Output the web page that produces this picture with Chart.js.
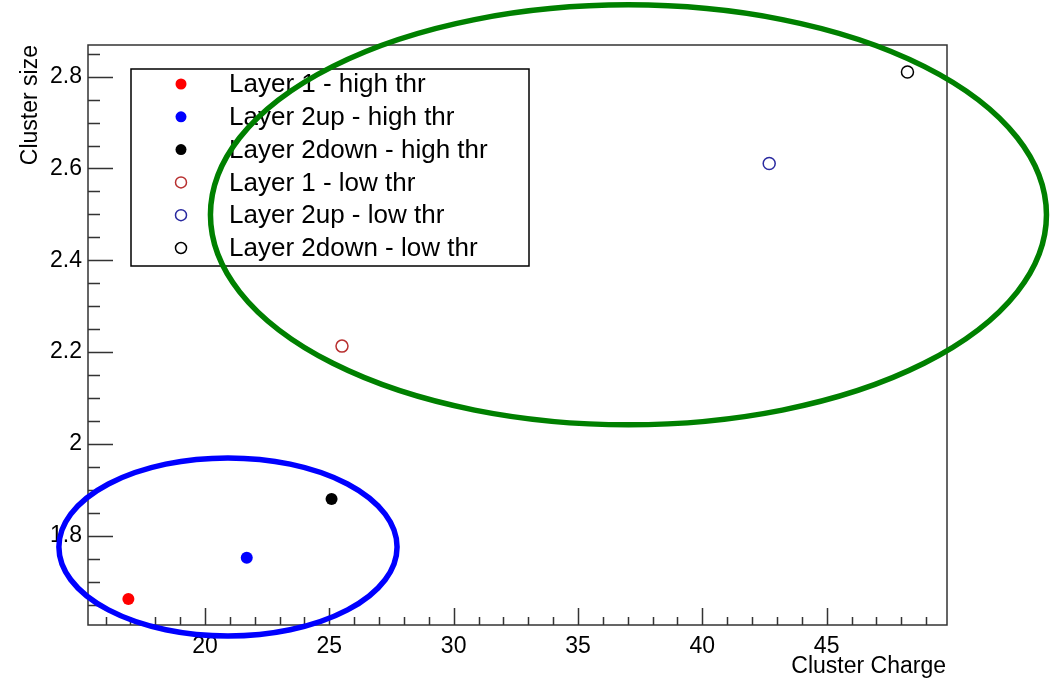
<!DOCTYPE html>
<html>
<head>
<meta charset="utf-8">
<script src="https://cdn.jsdelivr.net/npm/chart.js@4/dist/chart.umd.min.js"></script>
<style>
  html, body { margin: 0; padding: 0; background: #fff; }
  canvas { display: block; }
</style>
</head>
<body>
<canvas id="chart" width="1060" height="679"></canvas>
<script>
// data
const layers = ["Layer 1", "Layer 2up", "Layer 2down"];
const chargeHighThr = [16.92, 21.68, 25.09];
const sizeHighThr = [1.662, 1.752, 1.880];
const chargeLowThr = [25.51, 42.69, 48.25];
const sizeLowThr = [2.213, 2.611, 2.810];

const xTicks = [20, 25, 30, 35, 40, 45];
const yTicks = [1.8, 2, 2.2, 2.4, 2.6, 2.8];
const xRange = [15.296, 49.84];
const yRange = [1.6054, 2.869];

// hand-drawn rings, in data units
const rings = [
  { cx: 37.03, cy: 2.499, rx: 16.81, ry: 0.4575, color: "#008000" },
  { cx: 20.925, cy: 1.7754, rx: 6.80, ry: 0.194, color: "#0000ff" },
];

const fillColors = ["#ff0000", "#0000ff", "#000000"];
const lineColors = ["#b83030", "#2a2aa0", "#000000"];
const FONT = "'Liberation Sans', Arial, Helvetica, sans-serif";

const datasets = [];
layers.forEach((name, i) => {
  datasets.push({
    label: name + " - high thr",
    data: [{ x: chargeHighThr[i], y: sizeHighThr[i] }],
    backgroundColor: fillColors[i],
    borderColor: fillColors[i],
    pointRadius: 6,
    pointBorderWidth: 0,
    filled: true,
  });
});
layers.forEach((name, i) => {
  datasets.push({
    label: name + " - low thr",
    data: [{ x: chargeLowThr[i], y: sizeLowThr[i] }],
    backgroundColor: "rgba(0,0,0,0)",
    borderColor: lineColors[i],
    pointRadius: 6,
    pointBorderWidth: 1.5,
    filled: false,
  });
});

// frame, inward ticks, axis titles
const rootFrame = {
  id: "rootFrame",
  beforeDatasetsDraw(chart) {
    const { ctx, chartArea: a, scales: { x, y } } = chart;
    ctx.save();
    ctx.strokeStyle = "#333";
    ctx.lineWidth = 1.5;
    ctx.strokeRect(a.left, a.top, a.right - a.left, a.bottom - a.top);
    ctx.beginPath();
    for (let v = Math.ceil(x.min); v <= x.max; v++) {
      const px = Math.round(x.getPixelForValue(v)) + 0.5;
      const len = v % 5 === 0 ? 17 : 8;
      ctx.moveTo(px, a.bottom);
      ctx.lineTo(px, a.bottom - len);
    }
    for (let k = Math.ceil(y.min / 0.05); k * 0.05 <= y.max; k++) {
      const py = Math.round(y.getPixelForValue(k * 0.05)) + 0.5;
      const len = k % 4 === 0 ? 25 : 12;
      ctx.moveTo(a.left, py);
      ctx.lineTo(a.left + len, py);
    }
    ctx.stroke();

    ctx.fillStyle = "#000";
    ctx.font = "23px " + FONT;
    ctx.textAlign = "right";
    ctx.textBaseline = "alphabetic";
    ctx.fillText("Cluster Charge", a.right - 1, 673);
    ctx.translate(37, a.top);
    ctx.rotate(-Math.PI / 2);
    ctx.fillText("Cluster size", 0, 0);
    ctx.restore();
  },
  afterDatasetsDraw(chart) {
    const { ctx, chartArea: a, scales: { x, y } } = chart;
    ctx.save();
    // legend box
    const bx = a.left + 43, by = a.top + 24, bw = 398, bh = 197;
    ctx.fillStyle = "#fff";
    ctx.fillRect(bx, by, bw, bh);
    ctx.strokeStyle = "#000";
    ctx.lineWidth = 1.5;
    ctx.strokeRect(bx, by, bw, bh);
    ctx.font = "26px " + FONT;
    ctx.textAlign = "left";
    ctx.textBaseline = "middle";
    chart.data.datasets.forEach((ds, i) => {
      const cy = by + 15 + i * 32.8;
      const mx = bx + 50;
      ctx.beginPath();
      ctx.arc(mx, cy, 5.5, 0, Math.PI * 2);
      if (ds.filled) {
        ctx.fillStyle = ds.backgroundColor;
        ctx.fill();
      } else {
        ctx.strokeStyle = ds.borderColor;
        ctx.lineWidth = 1.5;
        ctx.stroke();
      }
      ctx.fillStyle = "#000";
      ctx.fillText(ds.label, bx + 98, cy + 1);
    });
    // rings
    rings.forEach(r => {
      const cx = x.getPixelForValue(r.cx);
      const cy = y.getPixelForValue(r.cy);
      const rx = Math.abs(x.getPixelForValue(r.cx + r.rx) - cx);
      const ry = Math.abs(y.getPixelForValue(r.cy + r.ry) - cy);
      ctx.beginPath();
      ctx.ellipse(cx, cy, rx, ry, 0, 0, Math.PI * 2);
      ctx.strokeStyle = r.color;
      ctx.lineWidth = 5.5;
      ctx.stroke();
    });
    ctx.restore();
  },
};

new Chart(document.getElementById("chart"), {
  type: "scatter",
  data: { datasets },
  options: {
    responsive: false,
    animation: false,
    devicePixelRatio: 1,
    layout: { padding: { top: 45, right: 113, left: 0, bottom: 0 } },
    plugins: { legend: { display: false }, tooltip: { enabled: false } },
    scales: {
      x: {
        type: "linear",
        min: xRange[0],
        max: xRange[1],
        grid: { display: false, drawTicks: false },
        border: { display: false },
        afterBuildTicks: s => { s.ticks = xTicks.map(v => ({ value: v })); },
        afterFit: s => { s.height = 54; },
        ticks: {
          padding: 8,
          color: "#000",
          font: { family: FONT, size: 23 },
          maxRotation: 0,
          callback: v => String(v),
        },
      },
      y: {
        type: "linear",
        min: yRange[0],
        max: yRange[1],
        grid: { display: false, drawTicks: false },
        border: { display: false },
        afterBuildTicks: s => { s.ticks = yTicks.map(v => ({ value: v })); },
        afterFit: s => { s.width = 88; },
        ticks: {
          padding: 6,
          color: "#000",
          font: { family: FONT, size: 23 },
          callback: v => String(+v.toFixed(1)),
        },
      },
    },
  },
  plugins: [rootFrame],
});
</script>
</body>
</html>
